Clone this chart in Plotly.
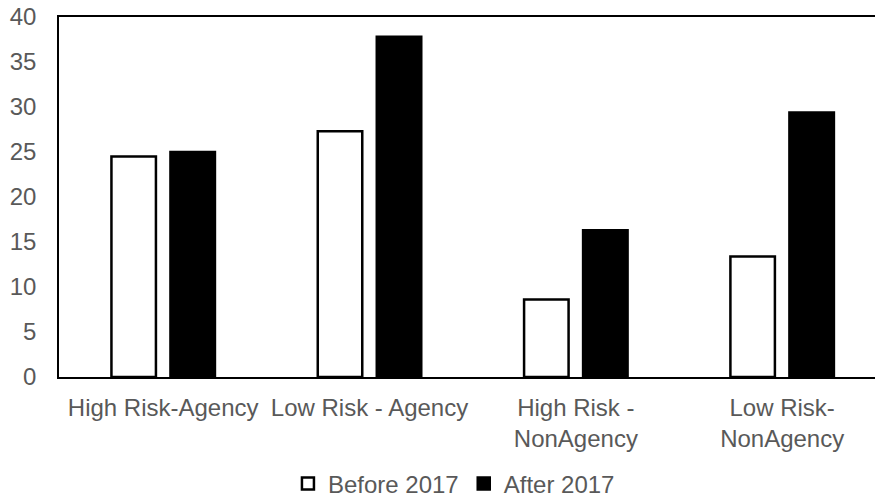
import plotly.graph_objects as go

# Share of loans by segment, before and after 2017
categories = [
    "High Risk-Agency",
    "Low Risk - Agency",
    "High Risk -<br>NonAgency",
    "Low Risk-<br>NonAgency",
]
before_2017 = [24.5, 27.3, 8.6, 13.4]
after_2017 = [25.0, 37.8, 16.3, 29.4]
y_ticks = [0, 5, 10, 15, 20, 25, 30, 35, 40]

text_color = "#595959"
font_family = "Liberation Sans, Arial, sans-serif"
font_size = 24

fig = go.Figure()
fig.add_trace(go.Bar(
    name="Before 2017",
    x=categories,
    y=before_2017,
    marker=dict(color="#FFFFFF", line=dict(color="#000000", width=2.5)),
))
fig.add_trace(go.Bar(
    name="After 2017",
    x=categories,
    y=after_2017,
    marker=dict(color="#000000", line=dict(color="#000000", width=2.5)),
))

fig.update_layout(
    width=875,
    height=499,
    margin=dict(l=59, r=0, t=17, b=122, autoexpand=False),
    paper_bgcolor="#FFFFFF",
    plot_bgcolor="#FFFFFF",
    barmode="group",
    bargap=0.428,
    bargroupgap=0.246,
    font=dict(family=font_family, size=font_size, color=text_color),
    showlegend=True,
    legend=dict(
        orientation="h",
        x=0.484,
        xanchor="center",
        y=-0.297,
        yanchor="middle",
        itemwidth=30,
        font=dict(family=font_family, size=font_size, color=text_color),
        bgcolor="rgba(0,0,0,0)",
    ),
    xaxis=dict(
        type="category",
        range=[-0.505, 3.45],
        showline=True,
        linecolor="#000000",
        linewidth=1.5,
        mirror=True,
        showgrid=False,
        ticks="",
        automargin=False,
        ticklabelstandoff=8,
        tickfont=dict(family=font_family, size=font_size, color=text_color),
    ),
    yaxis=dict(
        range=[0, 40],
        tickvals=y_ticks,
        showline=True,
        linecolor="#000000",
        linewidth=1.5,
        showgrid=False,
        zeroline=False,
        ticks="",
        automargin=False,
        ticklabelstandoff=16,
        tickfont=dict(family=font_family, size=font_size, color=text_color),
    ),
)

fig.write_html("out.html")
